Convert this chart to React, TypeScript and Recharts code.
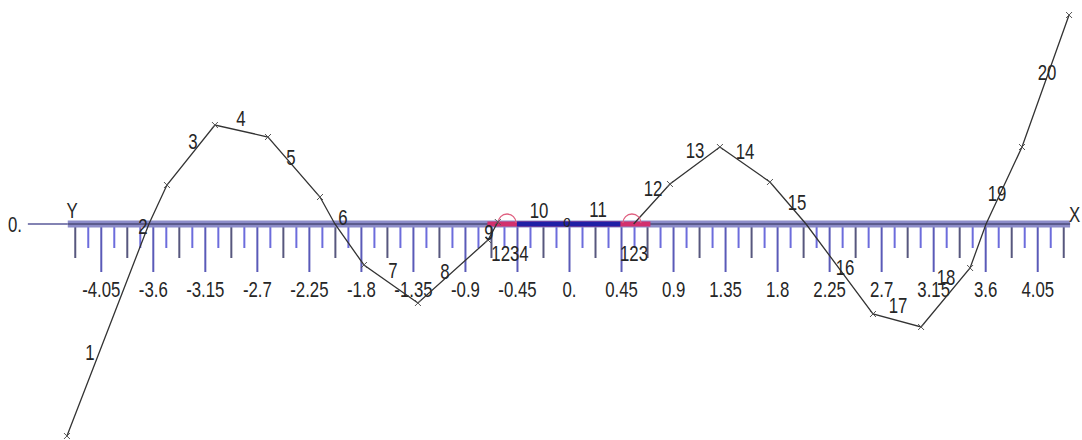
import React from "react";
import { ComposedChart, Line, Scatter, XAxis, YAxis } from "recharts";

const W = 1082;
const H = 440;
const X_DOMAIN: [number, number] = [-4.926, 4.433];
const Y_DOMAIN: [number, number] = [-2.16, 2.24];
const FONT = "'Liberation Sans Narrow', 'Arial Narrow', 'Liberation Sans', sans-serif";

// labelled ticks on the number line
const MAJOR_TICKS = [-4.05, -3.6, -3.15, -2.7, -2.25, -1.8, -1.35, -0.9, -0.45, 0, 0.45, 0.9, 1.35, 1.8, 2.25, 2.7, 3.15, 3.6, 4.05];
const MAJOR_LABELS = ["-4.05", "-3.6", "-3.15", "-2.7", "-2.25", "-1.8", "-1.35", "-0.9", "-0.45", "0.", "0.45", "0.9", "1.35", "1.8", "2.25", "2.7", "3.15", "3.6", "4.05"];
const SUBDIV = 4;
const STEP = (MAJOR_TICKS[1] - MAJOR_TICKS[0]) / SUBDIV;
const ALL_TICKS: number[] = [];
for (let i = -2; i <= (MAJOR_TICKS.length - 1) * SUBDIV + 2; i++) ALL_TICKS.push(+(MAJOR_TICKS[0] + i * STEP).toFixed(4));

// wavy curve, left and right pieces
const LEFT_X = [-4.347, -3.638, -3.482, -3.067, -2.608, -2.158, -2.029, -1.778, -1.311, -0.705, -0.62];
const LEFT_Y = [-2.12, 0, 0.39, 0.99, 0.87, 0.27, 0, -0.41, -0.79, -0.16, 0.02];
const RIGHT_X = [0.555, 0.869, 1.301, 1.734, 2.046, 2.625, 3.041, 3.465, 3.603, 3.914, 4.321];
const RIGHT_Y = [0, 0.4, 0.77, 0.42, 0, -0.9, -1.03, -0.44, 0, 0.77, 2.09];

// the axis itself and the highlighted interval
const AXIS_X = [-4.34, 4.33];
const AXIS_LEAD_X = [-4.685, -4.34];
const PINK_X = [-0.71, 0.7];
const BLUE_X = [-0.455, 0.44];
const ARC_X = [-0.54, 0.54];

// segment numbers and other text on the plot
const NOTE_TEXT = ["1", "2", "3", "4", "5", "6", "7", "8", "9", "1234", "10", "o", "11", "123", "12", "13", "14", "15", "16", "17", "18", "19", "20", "0.", "Y", "X"];
const NOTE_X = [-4.148, -3.69, -3.257, -2.842, -2.409, -1.959, -1.527, -1.077, -0.696, -0.515, -0.264, -0.022, 0.247, 0.558, 0.722, 1.086, 1.518, 1.968, 2.383, 2.842, 3.257, 3.698, 4.131, -4.797, -4.303, 4.37];
const NOTE_Y = [-1.28, -0.02, 0.83, 1.06, 0.67, 0.07, -0.46, -0.47, -0.08, -0.29, 0.14, 0.03, 0.15, -0.29, 0.36, 0.74, 0.73, 0.22, -0.43, -0.81, -0.53, 0.31, 1.52, 0, 0.14, 0.1];

const pts = (xs: number[], ys: number[]) => xs.map((x, i) => ({ x, y: ys[i] }));
const flat = (xs: number[]) => xs.map((x) => ({ x, y: 0 }));
const leftData = pts(LEFT_X, LEFT_Y);
const rightData = pts(RIGHT_X, RIGHT_Y);
const noteData = NOTE_X.map((x, i) => ({ x, y: NOTE_Y[i], t: NOTE_TEXT[i] }));

// condensed look of the original lettering
function Narrow({ x, y, size = 20, children }: { x: number; y: number; size?: number; children: React.ReactNode }) {
  return (
    <text transform={`translate(${x},${y}) scale(0.84,1.06)`} dy="0.36em" textAnchor="middle" fontFamily={FONT} fontSize={size} fill="#262626">
      {children}
    </text>
  );
}

function AxisTick(props: any) {
  const { x, y, payload } = props;
  const j = Math.round((payload.value - MAJOR_TICKS[0]) / STEP);
  const r = ((j % SUBDIV) + SUBDIV) % SUBDIV;
  const major = r === 0;
  const len = major ? 48 : r === 2 ? 34 : 24;
  const color = r === 2 ? "#57577e" : major ? "#5a5ab8" : "#6c6cdc";
  return (
    <g>
      <line x1={x} x2={x} y1={y + 2} y2={y + len} stroke={color} strokeWidth={2} />
      {major && <Narrow x={x} y={y + 65}>{MAJOR_LABELS[j / SUBDIV]}</Narrow>}
    </g>
  );
}

function CrossDot(props: any) {
  const { cx, cy, payload } = props;
  if (payload.y === 0) return <g />;
  return (
    <g stroke="#555" strokeWidth={1}>
      <line x1={cx - 3} y1={cy - 3} x2={cx + 3} y2={cy + 3} />
      <line x1={cx - 3} y1={cy + 3} x2={cx + 3} y2={cy - 3} />
    </g>
  );
}

export default function App() {
  return (
    <div style={{ position: "absolute", left: 0, top: 0, width: W, height: H, background: "#fff" }}>
      <div style={{ position: "absolute", left: 0, top: 0 }}>
        <ComposedChart width={W} height={H} margin={{ top: 0, right: 0, bottom: 156, left: 0 }} data={ALL_TICKS.map((x) => ({ x }))}>
          <XAxis type="number" dataKey="x" domain={X_DOMAIN} allowDataOverflow ticks={ALL_TICKS} interval={0} height={60}
            axisLine={false} tickLine={false} tickSize={0} tickMargin={0} tick={<AxisTick />} />
          <YAxis hide domain={[0, 1]} />
        </ComposedChart>
      </div>
      <div style={{ position: "absolute", left: 0, top: 0 }}>
        <ComposedChart width={W} height={H} margin={{ top: 0, right: 0, bottom: 0, left: 0 }}>
          <XAxis type="number" dataKey="x" domain={X_DOMAIN} allowDataOverflow hide />
          <YAxis type="number" domain={Y_DOMAIN} allowDataOverflow hide />
          <Line data={flat(AXIS_LEAD_X)} dataKey="y" stroke="#5a5a9a" strokeWidth={1.5} dot={false} isAnimationActive={false} />
          <Line data={flat(AXIS_X)} dataKey="y" stroke="#8c8cc8" strokeWidth={7} dot={false} isAnimationActive={false} />
          <Line data={flat(AXIS_X)} dataKey="y" stroke="#4b4b7a" strokeWidth={1.5} dot={false} isAnimationActive={false} />
          <Line data={flat(PINK_X)} dataKey="y" stroke="#d2306e" strokeWidth={5} dot={false} isAnimationActive={false} />
          <Line data={flat(BLUE_X)} dataKey="y" stroke="#1f1fa6" strokeWidth={5} dot={false} isAnimationActive={false} />
          <Scatter data={flat(ARC_X)} dataKey="y" isAnimationActive={false}
            shape={(p: any) => <path d={`M${p.cx - 9},${p.cy - 1} A9,9 0 0 1 ${p.cx + 9},${p.cy - 1}`} fill="none" stroke="#e06080" strokeWidth={1.3} />} />
          <Line data={leftData} dataKey="y" type="linear" stroke="#333" strokeWidth={1.3} dot={<CrossDot />} isAnimationActive={false} />
          <Line data={rightData} dataKey="y" type="linear" stroke="#333" strokeWidth={1.3} dot={<CrossDot />} isAnimationActive={false} />
          <Scatter data={noteData} dataKey="y" isAnimationActive={false}
            shape={(p: any) => <Narrow x={p.cx} y={p.cy} size={p.payload.t === "o" ? 16 : 20}>{p.payload.t}</Narrow>} />
        </ComposedChart>
      </div>
    </div>
  );
}
